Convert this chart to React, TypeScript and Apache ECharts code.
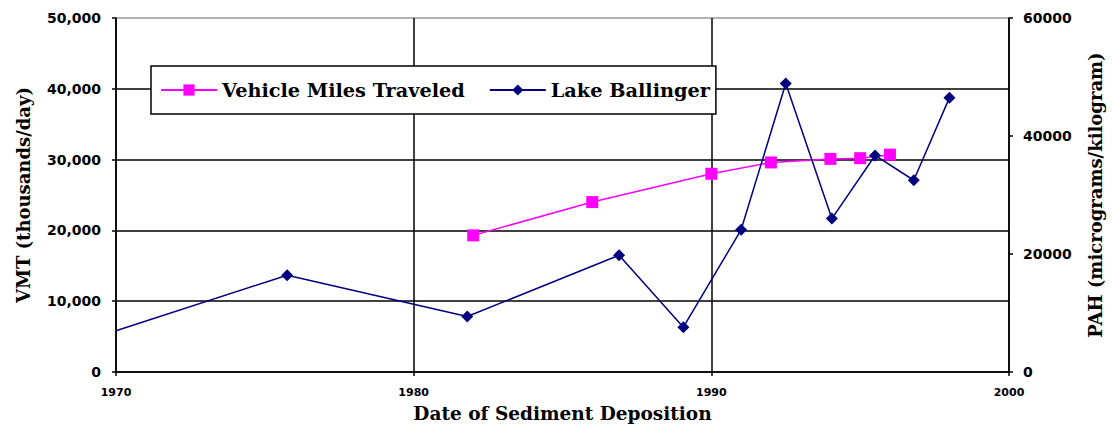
import React, { useEffect, useRef } from "react";
import * as echarts from "echarts";

const vmtYears = [1982, 1986, 1990, 1992, 1994, 1995, 1996];
const vmtValues = [19300, 24000, 28000, 29600, 30100, 30200, 30700];

const pahYears = [1970, 1975.75, 1981.8, 1986.9, 1989.06, 1991.0, 1992.5, 1994.05, 1995.5, 1996.8, 1998.0];
const pahValues = [7000, 16400, 9400, 19800, 7600, 24100, 48900, 26000, 36700, 32500, 46500];

const xTicks = [1970, 1980, 1990, 2000];
const leftTicks = [0, 10000, 20000, 30000, 40000, 50000];
const rightTicks = [0, 20000, 40000, 60000];

const serif = "DejaVu Serif";
const sans = "DejaVu Sans";

export default function App() {
  const ref = useRef<HTMLDivElement>(null);
  useEffect(() => {
    document.body.style.margin = "0";
    document.body.style.overflow = "hidden";
    if (!ref.current) return;
    const chart = echarts.init(ref.current, null, { renderer: "svg" });
    const option: any = {
      animation: false,
      backgroundColor: "#fff",
      grid: { left: 116, top: 18, width: 897, height: 354, containLabel: false },
      legend: {
        left: 151,
        top: 66,
        padding: [14, 6, 14, 9],
        itemGap: 24,
        itemWidth: 56,
        itemHeight: 14,
        borderColor: "#000",
        borderWidth: 1.5,
        backgroundColor: "#fff",
        textStyle: { fontFamily: serif, fontWeight: "bold", fontSize: 19.3, color: "#000", lineHeight: 20 },
        data: ["Vehicle Miles Traveled", "Lake Ballinger"],
      },
      xAxis: {
        type: "value",
        min: xTicks[0],
        max: xTicks[xTicks.length - 1],
        interval: 10,
        name: "Date of Sediment Deposition",
        nameLocation: "middle",
        nameGap: 32,
        nameTextStyle: { fontFamily: serif, fontWeight: "bold", fontSize: 18.5, color: "#000" },
        axisLine: { show: true, lineStyle: { color: "#000", width: 1.5 } },
        axisTick: { show: true, length: 4, lineStyle: { color: "#000", width: 1.5 } },
        axisLabel: { fontFamily: sans, fontWeight: "bold", fontSize: 11, color: "#000", margin: 15, formatter: (v: number) => String(v) },
        splitLine: { show: true, lineStyle: { color: "#000", width: 1.5 } },
      },
      yAxis: [
        {
          type: "value",
          min: leftTicks[0],
          max: leftTicks[leftTicks.length - 1],
          interval: 10000,
          position: "left",
          name: "VMT (thousands/day)",
          nameLocation: "middle",
          nameGap: 84,
          nameTextStyle: { fontFamily: serif, fontWeight: "bold", fontSize: 18, color: "#000" },
          axisLine: { show: true, lineStyle: { color: "#000", width: 1.5 } },
          axisTick: { show: true, length: 4, lineStyle: { color: "#000", width: 1.5 } },
          axisLabel: {
            fontFamily: sans,
            fontWeight: "bold",
            fontSize: 14,
            color: "#000",
            margin: 15,
            formatter: (v: number) => v.toLocaleString("en-US"),
          },
          splitLine: {
            show: true,
            lineStyle: { color: ["#000", "#000", "#000", "#000", "#000", "#999"], width: 1.5 },
          },
        },
        {
          type: "value",
          min: rightTicks[0],
          max: rightTicks[rightTicks.length - 1],
          interval: 20000,
          position: "right",
          name: "PAH (micrograms/kilogram)",
          nameLocation: "middle",
          nameGap: 77,
          nameRotate: 90,
          nameTextStyle: { fontFamily: serif, fontWeight: "bold", fontSize: 18, color: "#000" },
          axisLine: { show: true, lineStyle: { color: "#000", width: 1.5 } },
          axisTick: { show: true, length: 4, lineStyle: { color: "#000", width: 1.5 } },
          axisLabel: { fontFamily: sans, fontWeight: "bold", fontSize: 14, color: "#000", margin: 14, formatter: (v: number) => String(v) },
          splitLine: { show: false },
        },
      ],
      series: [
        {
          name: "Vehicle Miles Traveled",
          type: "line",
          yAxisIndex: 0,
          data: vmtYears.map((y, i) => [y, vmtValues[i]]),
          symbol: "rect",
          symbolSize: 12,
          itemStyle: { color: "#FF00FF" },
          lineStyle: { color: "#FF00FF", width: 1.5 },
          z: 3,
        },
        {
          name: "Lake Ballinger",
          type: "line",
          yAxisIndex: 1,
          data: pahYears.map((y, i) =>
            i === 0 ? { value: [y, pahValues[i]], symbol: "none" } : [y, pahValues[i]]
          ),
          symbol: "diamond",
          symbolSize: 12,
          itemStyle: { color: "#000080" },
          lineStyle: { color: "#000080", width: 1.5 },
          z: 4,
        },
      ],
    };
    chart.setOption(option);
    return () => chart.dispose();
  }, []);
  return <div ref={ref} style={{ width: 1112, height: 431 }} />;
}
